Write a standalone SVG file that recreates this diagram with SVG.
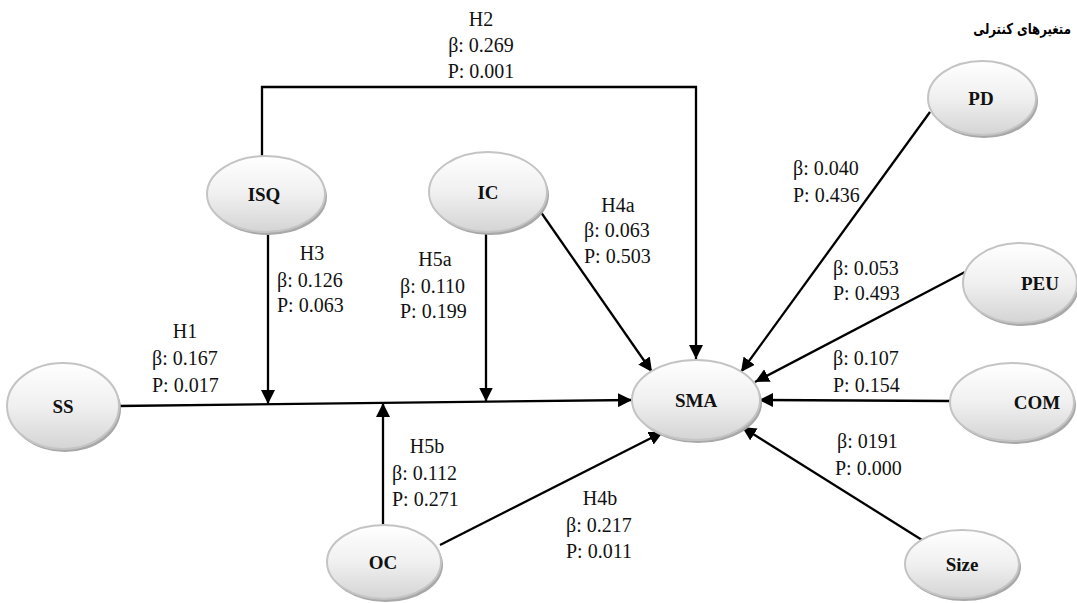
<svg xmlns="http://www.w3.org/2000/svg" width="1077" height="603" viewBox="0 0 1077 603">
<defs>
<linearGradient id="g" x1="0" y1="0" x2="0" y2="1">
<stop offset="0" stop-color="#ffffff"/>
<stop offset="0.5" stop-color="#f0f0f0"/>
<stop offset="1" stop-color="#d4d4d4"/>
</linearGradient>
<marker id="ah" markerUnits="userSpaceOnUse" markerWidth="14" markerHeight="14" refX="14" refY="7" orient="auto">
<path d="M0,0 L14,7 L0,14 z" fill="#000"/>
</marker>
</defs>
<style>
.sh{fill:#a8a8a8;}
.el{fill:url(#g);stroke:#c4c4c4;stroke-width:2;}
.nl{font-family:'Liberation Serif','Times New Roman',Tinos,'DejaVu Serif',serif;font-weight:bold;font-size:19px;fill:#111;text-anchor:middle;}
.lb{font-family:'Liberation Serif','Times New Roman',Tinos,'DejaVu Serif',serif;font-size:20px;fill:#111;}
.c{text-anchor:middle;}
.cn{fill:none;stroke:#000;stroke-width:2.3;}
.ar{marker-end:url(#ah);}
</style>
<rect width="1077" height="603" fill="#fff"/>

<g id="connectors">
<path class="cn ar" d="M262,156 V87 H696 V359"/>
<path class="cn ar" d="M118,406 L632,400"/>
<path class="cn ar" d="M268,232 V404"/>
<path class="cn ar" d="M486,232 V401.5"/>
<path class="cn ar" d="M383,524 V403"/>
<path class="cn ar" d="M538,208 L652,372"/>
<path class="cn ar" d="M440,545 L663,432"/>
<path class="cn ar" d="M930,112 L741,372"/>
<path class="cn ar" d="M965,272 L755,382"/>
<path class="cn ar" d="M950,401 L759,400"/>
<path class="cn ar" d="M922,540 L742,427"/>
</g>

<g id="labels">
<text class="lb c" x="481" y="26">H2</text>
<text class="lb c" x="481" y="52">β: 0.269</text>
<text class="lb c" x="481" y="78">P: 0.001</text>
<text class="lb c" x="312" y="260">H3</text>
<text class="lb" x="277" y="287">β: 0.126</text>
<text class="lb" x="277" y="312">P: 0.063</text>
<text class="lb c" x="435" y="266">H5a</text>
<text class="lb" x="400" y="293">β: 0.110</text>
<text class="lb" x="400" y="318">P: 0.199</text>
<text class="lb c" x="185" y="338">H1</text>
<text class="lb" x="152" y="365">β: 0.167</text>
<text class="lb" x="152" y="392">P: 0.017</text>
<text class="lb c" x="618" y="212">H4a</text>
<text class="lb" x="584" y="237">β: 0.063</text>
<text class="lb" x="584" y="263">P: 0.503</text>
<text class="lb" x="793" y="175">β: 0.040</text>
<text class="lb" x="793" y="202">P: 0.436</text>
<text class="lb" x="833" y="275">β: 0.053</text>
<text class="lb" x="833" y="300">P: 0.493</text>
<text class="lb" x="833" y="365">β: 0.107</text>
<text class="lb" x="833" y="392">P: 0.154</text>
<text class="lb" x="837" y="448">β: 0191</text>
<text class="lb" x="835" y="475">P: 0.000</text>
<text class="lb c" x="427" y="453">H5b</text>
<text class="lb" x="392" y="480">β: 0.112</text>
<text class="lb" x="392" y="506">P: 0.271</text>
<text class="lb c" x="600" y="505">H4b</text>
<text class="lb" x="566" y="532">β: 0.217</text>
<text class="lb" x="566" y="558">P: 0.011</text>
<text transform="translate(1022,34) scale(0.78,1)" x="0" y="0" text-anchor="middle" font-family="'DejaVu Sans',sans-serif" font-weight="bold" font-size="15" fill="#000">متغیرهای کنترلی</text>
</g>

<g id="node-ISQ">
<ellipse class="sh" cx="268" cy="197" rx="59" ry="38"/>
<ellipse class="el" cx="266" cy="194" rx="59" ry="38"/>
<text class="nl" x="264" y="201">ISQ</text>
</g>
<g id="node-IC">
<ellipse class="sh" cx="490" cy="195" rx="59" ry="40"/>
<ellipse class="el" cx="488" cy="192" rx="59" ry="40"/>
<text class="nl" x="488" y="199">IC</text>
</g>
<g id="node-SS">
<ellipse class="sh" cx="65" cy="409" rx="56" ry="43"/>
<ellipse class="el" cx="63" cy="406" rx="56" ry="43"/>
<text class="nl" x="63" y="413">SS</text>
</g>
<g id="node-SMA">
<ellipse class="sh" cx="698" cy="403" rx="64" ry="40"/>
<ellipse class="el" cx="696" cy="400" rx="64" ry="40"/>
<text class="nl" x="696" y="407">SMA</text>
</g>
<g id="node-OC">
<ellipse class="sh" cx="386" cy="565" rx="57" ry="37"/>
<ellipse class="el" cx="384" cy="562" rx="57" ry="37"/>
<text class="nl" x="383" y="569">OC</text>
</g>
<g id="node-PD">
<ellipse class="sh" cx="984" cy="101" rx="54" ry="37"/>
<ellipse class="el" cx="982" cy="98" rx="54" ry="37"/>
<text class="nl" x="981" y="105">PD</text>
</g>
<g id="node-PEU">
<ellipse class="sh" cx="1022" cy="286" rx="57" ry="40"/>
<ellipse class="el" cx="1020" cy="283" rx="57" ry="40"/>
<text class="nl" x="1040" y="290">PEU</text>
</g>
<g id="node-COM">
<ellipse class="sh" cx="1014" cy="405" rx="62" ry="39"/>
<ellipse class="el" cx="1012" cy="402" rx="62" ry="39"/>
<text class="nl" x="1037" y="409">COM</text>
</g>
<g id="node-Size">
<ellipse class="sh" cx="964" cy="567" rx="57" ry="34"/>
<ellipse class="el" cx="962" cy="564" rx="57" ry="34"/>
<text class="nl" x="962" y="571">Size</text>
</g>
</svg>
